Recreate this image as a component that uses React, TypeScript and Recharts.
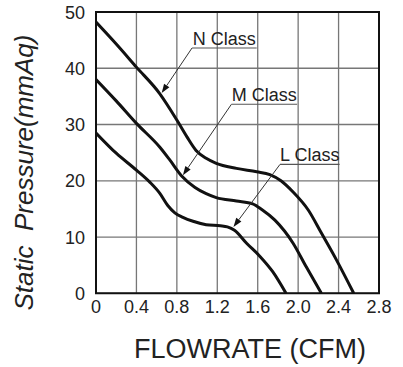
import React from "react";
import {
  LineChart,
  Line,
  XAxis,
  YAxis,
  CartesianGrid,
  ReferenceArea,
  ReferenceLine,
} from "recharts";

// ── data ──────────────────────────────────────────────────────

const X_TICKS = [0, 0.4, 0.8, 1.2, 1.6, 2.0, 2.4, 2.8];
const X_TICK_LABELS = ["0", "0.4", "0.8", "1.2", "1.6", "2.0", "2.4", "2.8"];
const Y_TICKS = [0, 10, 20, 30, 40, 50];

const N_FLOW  = [0, 0.2, 0.4, 0.63, 0.8, 0.9, 0.99, 1.09, 1.19, 1.39, 1.59, 1.72, 1.83, 1.95, 2.1, 2.23, 2.38, 2.55];
const N_PRESS = [48.2, 44.3, 40.2, 35.5, 30.8, 27.8, 25.4, 24.0, 23.1, 22.2, 21.6, 21.1, 20.0, 18.0, 14.8, 10.7, 5.9, 0];

const M_FLOW  = [0, 0.2, 0.4, 0.63, 0.73, 0.85, 0.98, 1.09, 1.19, 1.39, 1.55, 1.64, 1.77, 1.95, 2.08, 2.23];
const M_PRESS = [38.0, 34.2, 30.2, 26.0, 23.7, 20.8, 18.8, 17.7, 17.0, 16.4, 15.9, 14.9, 13.0, 8.9, 4.7, 0];

const L_FLOW  = [0, 0.2, 0.4, 0.53, 0.63, 0.71, 0.78, 0.86, 0.96, 1.09, 1.23, 1.3, 1.37, 1.49, 1.62, 1.75, 1.88];
const L_PRESS = [28.5, 24.9, 21.9, 19.8, 17.8, 15.6, 14.3, 13.5, 12.8, 12.2, 12.0, 11.8, 11.2, 8.9, 6.6, 3.8, 0];

const SERIES_NAMES = ["N Class", "M Class", "L Class"];

const toPoints = (xs: number[], ys: number[]) => xs.map((x, i) => ({ flow: x, pressure: ys[i] }));

const SERIES = [
  toPoints(N_FLOW, N_PRESS),
  toPoints(M_FLOW, M_PRESS),
  toPoints(L_FLOW, L_PRESS),
];

// annotation leaders, in data units: underline y, underline x range, arrow tip
const ANNOTATIONS = [
  { y: 43.6, x1: 0.95, x2: 1.59, tipX: 0.65, tipY: 35.6 },
  { y: 33.6, x1: 1.34, x2: 1.99, tipX: 0.86, tipY: 21.0 },
  { y: 22.9, x1: 1.82, x2: 2.41, tipX: 1.36, tipY: 11.8 },
];

const FONT = "'Liberation Sans', Arial, Helvetica, sans-serif";

// ── ticks ─────────────────────────────────────────────────────

function XTick({ x, y, payload }: any) {
  const i = X_TICKS.indexOf(payload.value);
  return (
    <text x={x} y={y + 12} textAnchor="middle" fontFamily={FONT} fontSize={18} fill="#222">
      {i >= 0 ? X_TICK_LABELS[i] : payload.value}
    </text>
  );
}

function YTick({ x, y, payload }: any) {
  return (
    <text x={x - 3} y={y + 6.5} textAnchor="end" fontFamily={FONT} fontSize={18} fill="#222">
      {payload.value}
    </text>
  );
}

// ── leader line with arrowhead + underlined label ─────────────

function leaderShape(props: any) {
  const { x1, y1, x2, y2 } = props;
  const dx = x2 - x1;
  const dy = y2 - y1;
  const len = Math.hypot(dx, dy) || 1;
  const ux = dx / len;
  const uy = dy / len;
  const hl = 9;
  const hw = 3.2;
  const bx = x2 - ux * hl;
  const by = y2 - uy * hl;
  const pts = `${x2},${y2} ${bx - uy * hw},${by + ux * hw} ${bx + uy * hw},${by - ux * hw}`;
  return (
    <g>
      <line x1={x1} y1={y1} x2={bx} y2={by} stroke="#333" strokeWidth={1} />
      <polygon points={pts} fill="#111" />
    </g>
  );
}

function underlineShape(name: string) {
  return (props: any) => {
    const { x1, y1, x2, y2 } = props;
    return (
      <g>
        <line x1={x1} y1={y1} x2={x2} y2={y2} stroke="#555" strokeWidth={1.2} />
        <text
          x={(x1 + x2) / 2}
          y={y1 - 3}
          textAnchor="middle"
          fontFamily={FONT}
          fontSize={18}
          fill="#222"
        >
          {name}
        </text>
      </g>
    );
  };
}

// ── chart ─────────────────────────────────────────────────────

export default function App() {
  return (
    <div style={{ position: "absolute", left: 0, top: 0, width: 403, height: 367, background: "#fff" }}>
      <LineChart
        width={403}
        height={367}
        margin={{ top: 12, right: 24, left: 0, bottom: 0 }}
      >
        <CartesianGrid stroke="#777" strokeWidth={1.3} />
        <XAxis
          type="number"
          dataKey="flow"
          domain={[0, 2.8]}
          ticks={X_TICKS}
          tick={<XTick />}
          tickLine={false}
          axisLine={false}
          height={73.7}
          allowDataOverflow
        />
        <YAxis
          type="number"
          dataKey="pressure"
          domain={[0, 50]}
          ticks={Y_TICKS}
          tick={<YTick />}
          tickLine={false}
          axisLine={false}
          width={96}
          allowDataOverflow
        />
        <ReferenceArea x1={0} x2={2.8} y1={0} y2={50} fill="none" stroke="#111" strokeWidth={2} />

        {SERIES.map((data, i) => (
          <Line
            key={SERIES_NAMES[i]}
            data={data}
            dataKey="pressure"
            type="monotone"
            stroke="#111"
            strokeWidth={3}
            dot={false}
            isAnimationActive={false}
          />
        ))}

        {ANNOTATIONS.map((a, i) => (
          <ReferenceLine
            key={`lead-${i}`}
            segment={[{ x: a.x1, y: a.y }, { x: a.tipX, y: a.tipY }]}
            shape={leaderShape}
          />
        ))}
        {ANNOTATIONS.map((a, i) => (
          <ReferenceLine
            key={`under-${i}`}
            segment={[{ x: a.x1, y: a.y }, { x: a.x2, y: a.y }]}
            shape={underlineShape(SERIES_NAMES[i])}
          />
        ))}

        <text x={250} y={358.3} textAnchor="middle" fontFamily={FONT} fontSize={27} fill="#222">
          FLOWRATE (CFM)
        </text>
        <text
          transform="translate(33,172.5) rotate(-90)"
          textAnchor="middle"
          fontFamily={FONT}
          fontSize={26}
          fontStyle="italic"
          fill="#222"
          style={{ whiteSpace: "pre" }}
        >
          {"Static  Pressure(mmAq)"}
        </text>
      </LineChart>
    </div>
  );
}
